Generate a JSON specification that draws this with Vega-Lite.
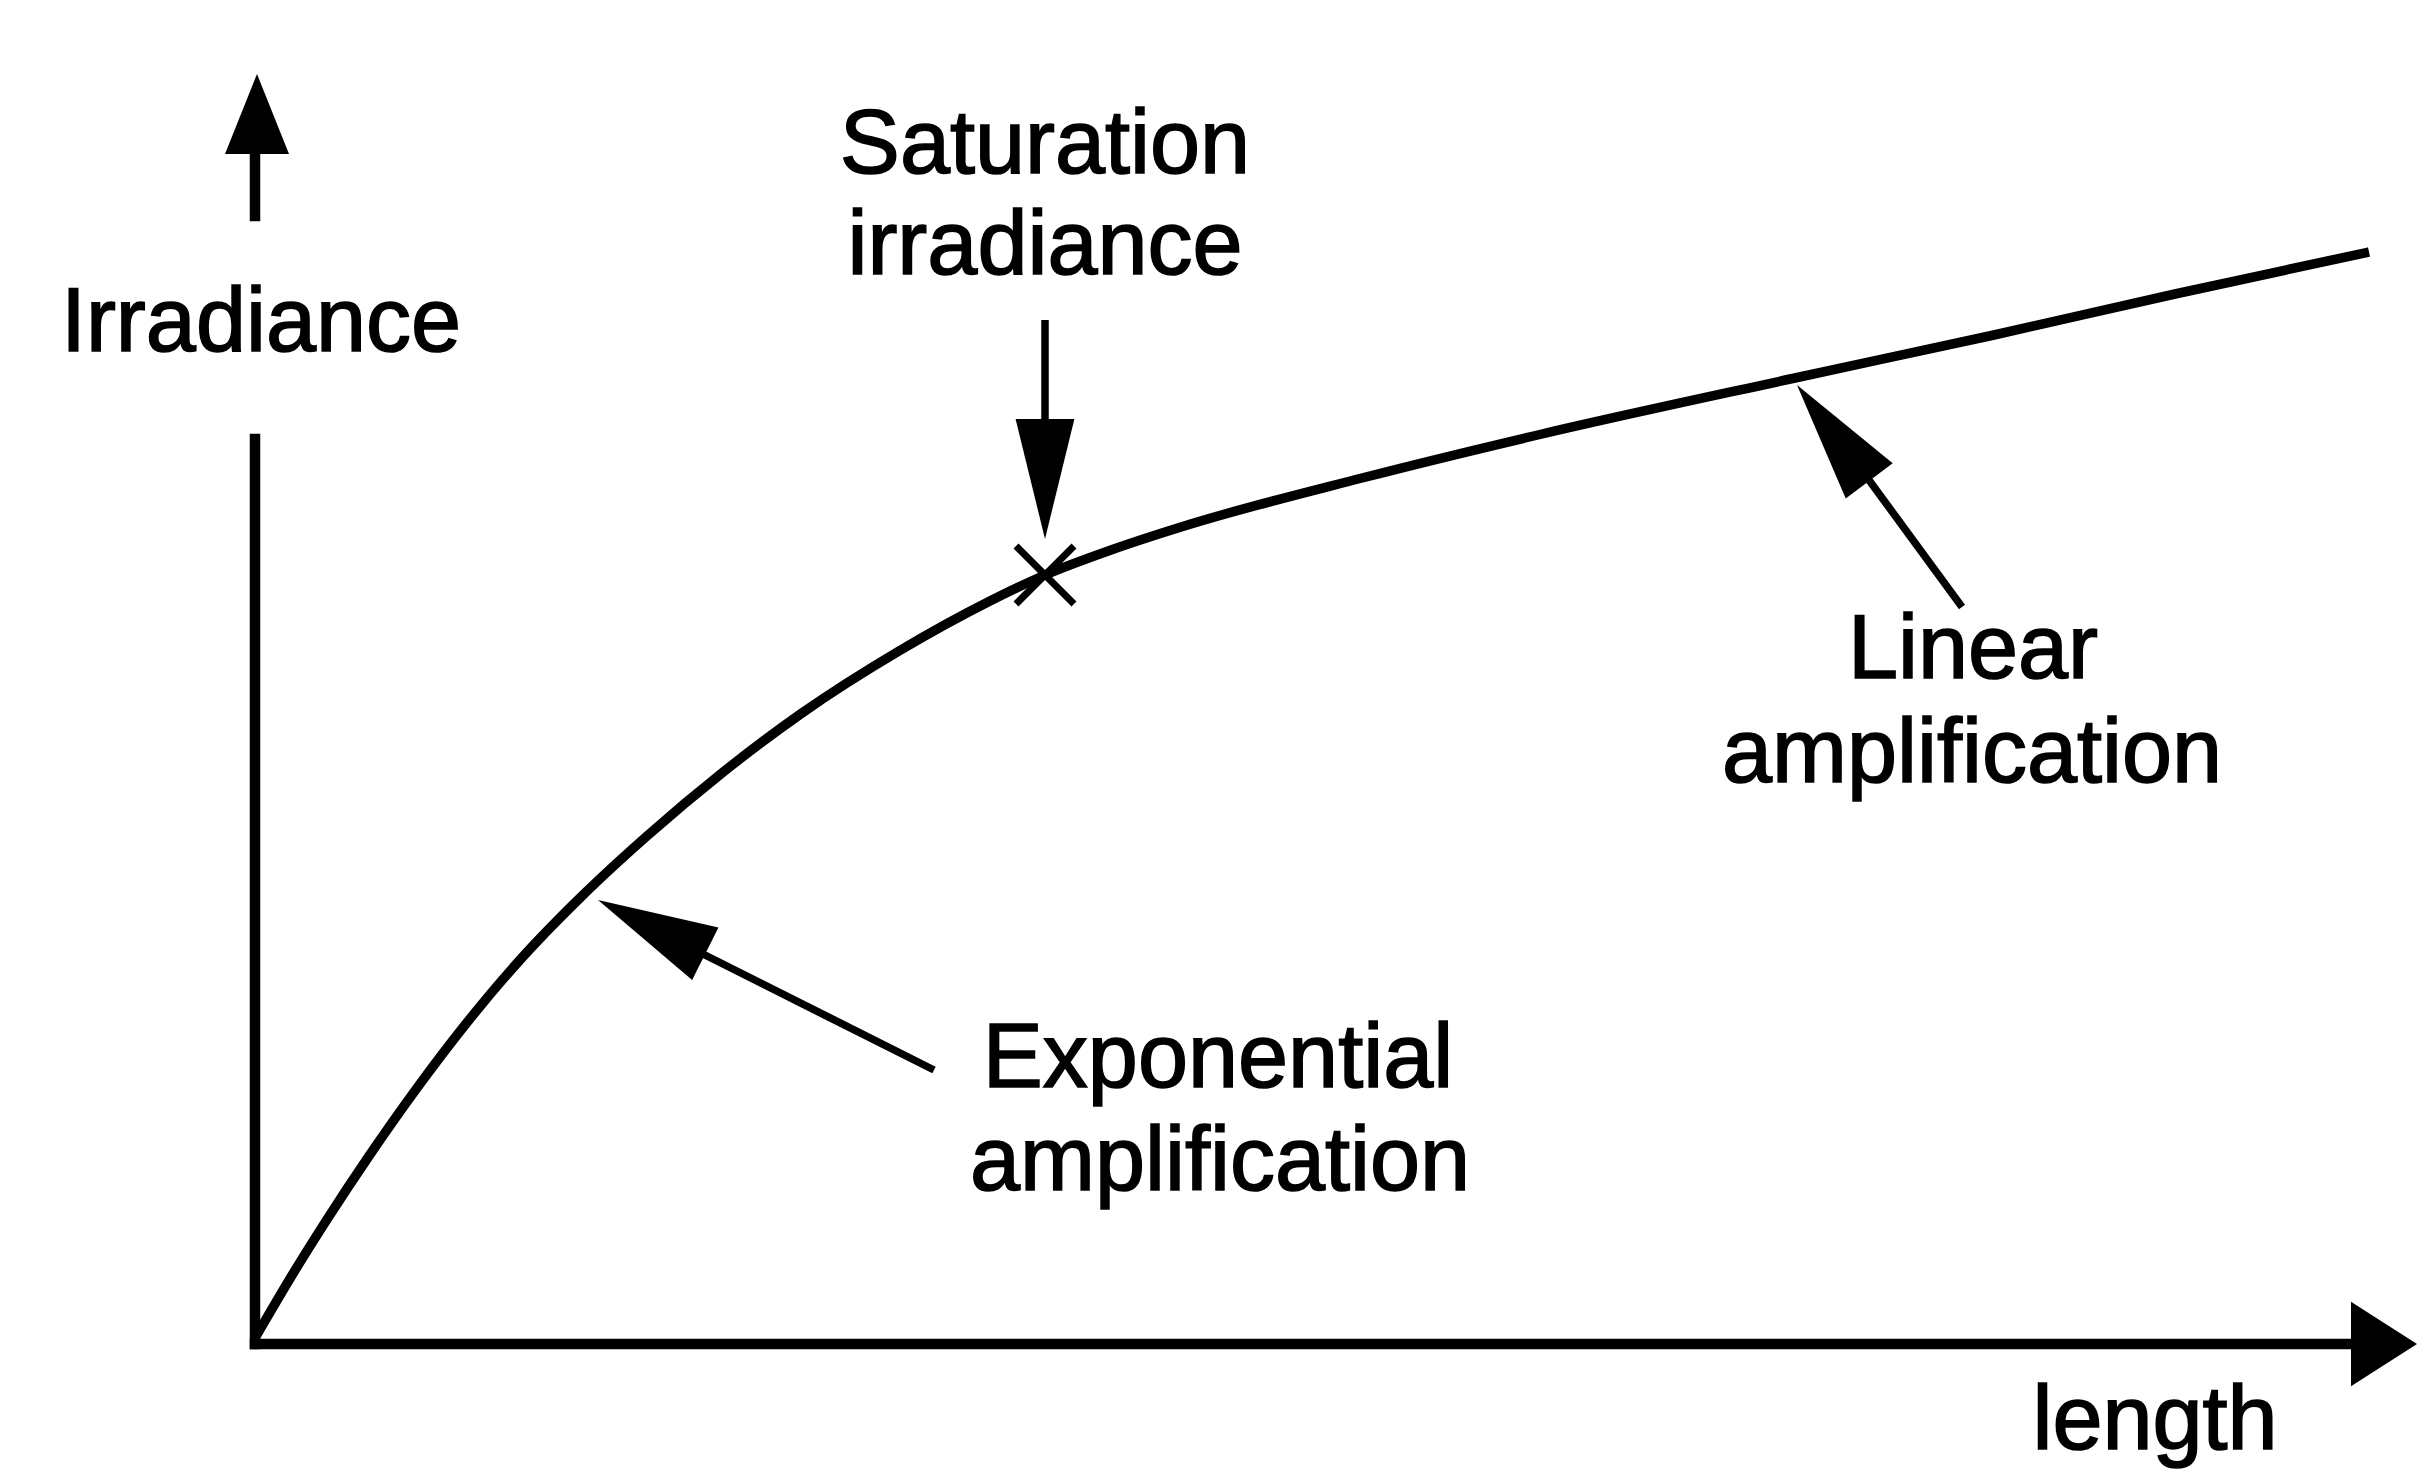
{
  "$schema": "https://vega.github.io/schema/vega-lite/v6.json",
  "width": 2417,
  "height": 1477,
  "padding": 0,
  "autosize": {"type": "fit", "contains": "padding"},
  "background": "white",
  "config": {"view": {"stroke": null}},
  "datasets": {
    "curve": [
      {"x": 0.4, "y": 0.6}, {"x": 4.3, "y": 7.2}, {"x": 7.5, "y": 12.3}, {"x": 11.8, "y": 18.8},
      {"x": 16.6, "y": 25.6}, {"x": 21.4, "y": 31.9}, {"x": 26.8, "y": 38.3}, {"x": 33.2, "y": 44.9},
      {"x": 39.6, "y": 50.8}, {"x": 47.1, "y": 57.1}, {"x": 55.1, "y": 63.1}, {"x": 64.8, "y": 69.3},
      {"x": 73.9, "y": 74.3}, {"x": 79.4, "y": 76.9}, {"x": 86.0, "y": 79.4}, {"x": 93.0, "y": 81.7},
      {"x": 111.1, "y": 86.6}, {"x": 129.1, "y": 91.0}, {"x": 154.4, "y": 96.6}, {"x": 174.3, "y": 100.9},
      {"x": 192.4, "y": 105.0}, {"x": 211.8, "y": 109.2}
    ],
    "axes": [
      {"part": "y lower", "x": 0.4, "y": 0, "x2": 0.4, "y2": 90.5},
      {"part": "y upper", "x": 0.4, "y": 112.8, "x2": 0.4, "y2": 120},
      {"part": "x", "x": 0.4, "x2": 210.5, "y": 0, "y2": 0}
    ],
    "shafts": [
      {"label": "saturation", "x": 79.4, "y": 102.4, "x2": 79.4, "y2": 91.5},
      {"label": "linear", "x": 171.1, "y": 73.7, "x2": 161.5, "y2": 86.8},
      {"label": "exponential", "x": 68.3, "y": 27.4, "x2": 44.8, "y2": 39.2}
    ],
    "heads": [
      {"label": "saturation", "x": 79.4, "y": 80.5, "angle": 180},
      {"label": "linear", "x": 154.6, "y": 95.9, "angle": 323},
      {"label": "exponential", "x": 34.7, "y": 44.4, "angle": 296.6}
    ],
    "axisheads": [
      {"axis": "y", "x": 0.6, "y": 127}
    ],
    "xhead": [
      {"axis": "x", "x": 216.6, "y": 0}
    ],
    "marker": [
      {"x": 79.4, "y": 76.9}
    ],
    "labels": [
      {"text": "Irradiance", "x": 1.0, "y": 99.3},
      {"text": "Saturation", "x": 79.4, "y": 117.1},
      {"text": "irradiance", "x": 79.4, "y": 107.0},
      {"text": "Linear", "x": 172.2, "y": 66.6},
      {"text": "amplification", "x": 172.1, "y": 56.2},
      {"text": "Exponential", "x": 96.7, "y": 25.7},
      {"text": "amplification", "x": 96.9, "y": 15.4},
      {"text": "length", "x": 190.4, "y": -10.5}
    ]
  },
  "encoding": {
    "x": {"field": "x", "type": "quantitative", "scale": {"domain": [-25.1, 216.6], "nice": false, "zero": false}, "axis": null},
    "y": {"field": "y", "type": "quantitative", "scale": {"domain": [-13.3, 134.4], "nice": false, "zero": false}, "axis": null}
  },
  "layer": [
    {
      "data": {"name": "axes"},
      "mark": {"type": "rule", "color": "black", "strokeWidth": 10.5, "strokeCap": "square"},
      "encoding": {"x2": {"field": "x2"}, "y2": {"field": "y2"}}
    },
    {
      "data": {"name": "curve"},
      "mark": {"type": "line", "color": "black", "strokeWidth": 9.5, "interpolate": "monotone"},
      "encoding": {"order": {"field": "x", "type": "quantitative"}}
    },
    {
      "data": {"name": "shafts"},
      "mark": {"type": "rule", "color": "black", "strokeWidth": 7.5},
      "encoding": {"x2": {"field": "x2"}, "y2": {"field": "y2"}}
    },
    {
      "data": {"name": "heads"},
      "mark": {"type": "point", "shape": "M0,0L-0.245,1L0.245,1Z", "filled": true, "color": "black", "opacity": 1, "size": 57600},
      "encoding": {"angle": {"field": "angle", "type": "quantitative", "scale": null}}
    },
    {
      "data": {"name": "axisheads"},
      "mark": {"type": "point", "shape": "M0,0L-0.4,1L0.4,1Z", "filled": true, "color": "black", "opacity": 1, "size": 25600}
    },
    {
      "data": {"name": "xhead"},
      "mark": {"type": "point", "shape": "M0,0L-0.64,1L0.64,1Z", "filled": true, "color": "black", "opacity": 1, "size": 17424, "angle": 90}
    },
    {
      "data": {"name": "marker"},
      "mark": {"type": "point", "shape": "M-1,-1L1,1M1,-1L-1,1", "filled": false, "color": "black", "opacity": 1, "strokeWidth": 7, "size": 3364}
    },
    {
      "data": {"name": "labels"},
      "mark": {"type": "text", "font": "Liberation Sans", "fontSize": 90, "color": "black", "stroke": "black", "strokeWidth": 1.6, "align": "center", "baseline": "alphabetic"},
      "encoding": {"text": {"field": "text"}}
    }
  ]
}
